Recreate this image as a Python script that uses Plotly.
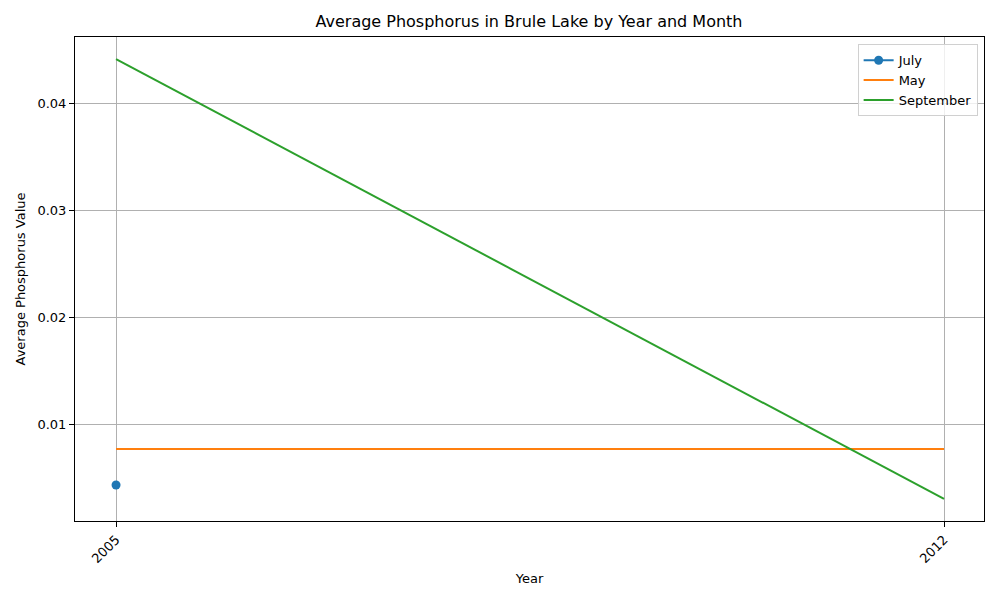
import plotly.graph_objects as go

# values
july_years = [2005]
july_values = [0.0043]

may_years = [2005, 2012]
may_values = [0.00766, 0.00766]

sep_years = [2005, 2012]
sep_values = [0.0441, 0.0030]

year_ticks = [2005, 2012]
year_labels = ["2005", "2012"]

fig = go.Figure()

fig.add_trace(go.Scatter(x=july_years, y=july_values, mode='lines+markers', name='July',
                         line=dict(color='#1f77b4', width=2),
                         marker=dict(color='#1f77b4', size=9)))
fig.add_trace(go.Scatter(x=may_years, y=may_values, mode='lines', name='May',
                         line=dict(color='#ff7f0e', width=2)))
fig.add_trace(go.Scatter(x=sep_years, y=sep_values, mode='lines', name='September',
                         line=dict(color='#2ca02c', width=2)))

axis_style = dict(showline=True, linecolor='black', linewidth=1, mirror=True,
                  ticks='outside', ticklen=5, tickcolor='black',
                  showgrid=True, gridcolor='#b0b0b0', gridwidth=1,
                  zeroline=False, tickfont=dict(size=13, color='black'))

# the page puts the figure 8px in from the corner, so margins are shifted to match
fig.update_layout(
    width=1000, height=600,
    margin=dict(l=67, r=24, t=29, b=87),
    paper_bgcolor='white', plot_bgcolor='white',
    font=dict(family='DejaVu Sans', color='black'),
    title=dict(text='Average Phosphorus in Brule Lake by Year and Month',
               x=0.521, xanchor='center', y=0.977, yanchor='middle',
               font=dict(size=16)),
    legend=dict(x=0.993, y=0.985, xanchor='right', yanchor='top',
                bordercolor='#d0d0d0', borderwidth=1, bgcolor='rgba(255,255,255,0.8)',
                font=dict(size=13), tracegroupgap=0),
    showlegend=True,
)

fig.update_xaxes(axis_style, range=[2004.653, 2012.338], tickvals=year_ticks,
                 ticktext=year_labels, tickangle=-45,
                 title=dict(text='Year', font=dict(size=13), standoff=8))
fig.update_yaxes(axis_style, range=[0.000935, 0.046168], tickvals=[0.01, 0.02, 0.03, 0.04],
                 tickformat='.2f',
                 title=dict(text='Average Phosphorus Value', font=dict(size=13), standoff=8))

fig.write_html("out.html")
